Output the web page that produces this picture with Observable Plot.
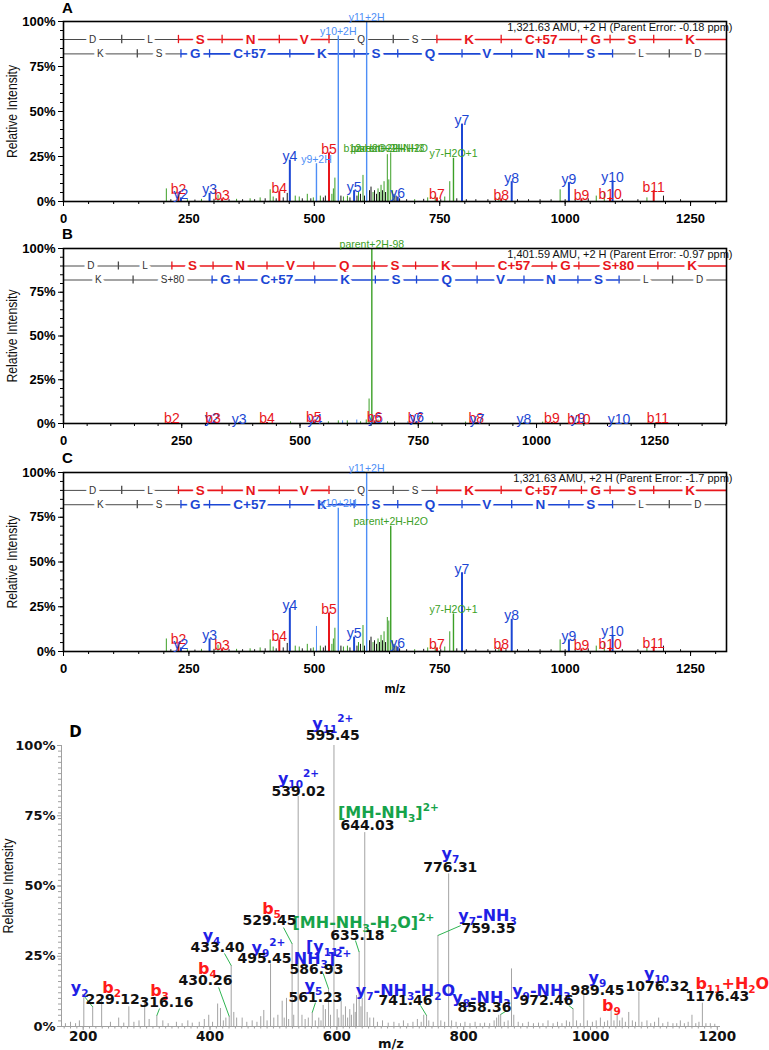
<!DOCTYPE html>
<html>
<head>
<meta charset="utf-8">
<script src="https://cdn.jsdelivr.net/npm/d3@7"></script>
<script src="https://cdn.jsdelivr.net/npm/@observablehq/plot@0.6"></script>
<style>
  html, body { margin: 0; padding: 0; background: #fff; }
  #page { position: relative; width: 769px; height: 1050px; overflow: hidden; background: #fff; }
  #page > div { position: absolute; left: 0; width: 769px; }
  svg { overflow: visible; }
</style>
</head>
<body>
<div id="page"></div>
<script>
// ---------------- DATA ----------------
// Panels A and C: peptide sequence rows (b-ion row on top, y-ion row below)
const seqTopAC = ["D","L","S","N","V","Q","S","K","C+57","G","S","K"];
const seqBotAC = ["K","S","G","C+57","K","S","Q","V","N","S","L","D"];
const bIonsAC = [116.04,229.12,316.15,430.19,529.26,657.32,744.35,872.45,1032.48,1089.50,1176.53];
const yIonsAC = [147.11,234.14,291.16,451.19,579.29,666.32,794.38,893.45,1007.49,1094.52,1207.61];
const topCoveredAC = [0,0,1,1,1,0,0,1,1,1,1,1];
const botCoveredAC = [0,0,1,1,1,1,1,1,1,1,0,0];

// Panel B (phospho form)
const seqTopB = ["D","L","S","N","V","Q","S","K","C+57","G","S+80","K"];
const seqBotB = ["K","S+80","G","C+57","K","S","Q","V","N","S","L","D"];
const bIonsB = [116.04,229.12,316.15,430.19,529.26,657.32,744.35,872.45,1032.48,1089.50,1256.53];
const yIonsB = [147.11,314.14,371.16,531.19,659.29,746.32,874.38,973.45,1087.49,1174.52,1287.61];
const topCoveredB = [0,0,1,1,1,1,1,1,1,1,1,1];
const botCoveredB = [0,0,1,1,1,1,1,1,1,1,0,0];

const parentA = 1321.63, parentB = 1401.59, parentC = 1321.63;
const headerA = "1,321.63 AMU, +2 H (Parent Error: -0.18 ppm)";
const headerB = "1,401.59 AMU, +2 H (Parent Error: -0.97 ppm)";
const headerC = "1,321.63 AMU, +2 H (Parent Error: -1.7 ppm)";

// unlabeled peaks shared by spectra A and C: [m/z, %, series]
const minorPeaksAC = [
  [205,7,"g"],[214,1,"k"],[247,1,"g"],[262,0.8,"k"],[275,1.2,"g"],[300,1.2,"k"],[308,3.5,"g"],
  [330,1,"k"],[345,1.2,"g"],[357,1,"k"],[372,1.5,"g"],[381,1,"k"],[392,2,"g"],[402,1.5,"k"],
  [412,6.5,"g"],[418,2.5,"g"],[424,1.5,"k"],[438,2,"k"],[446,4.5,"k"],[462,3,"g"],[470,2.5,"g"],
  [476,1.5,"k"],[486,4,"g"],[493,1.5,"k"],[498,2,"g"],[512,3,"g"],[518,2,"k"],[522,3,"k"],
  [535,4,"g"],[538,7,"g"],[541,13,"g"],[553,3,"k"],[558,2.5,"g"],[566,3,"g"],[571,2,"k"],
  [585,3,"k"],[588,5,"g"],[592,4,"k"],[597,14.5,"g"],[600,3,"k"],[610,6,"k"],[613,8,"k"],
  [617,5,"g"],[620,6,"k"],[624,4,"k"],[627,7,"g"],[630,5,"k"],[633,9,"g"],[636,6,"k"],
  [639,11,"g"],[642,5,"k"],[656,6,"g"],[659,4,"k"],[663,3,"k"],[670,1.5,"k"],[684,1,"k"],
  [700,1,"g"],[718,1.2,"k"],[726,2,"g"],[741,3,"g"],[752,1,"k"],[760,2.5,"g"],[770,11,"g"],
  [784,1.5,"k"],[803,1,"k"],[822,1,"k"],[846,1,"k"],[861,1,"k"],[868,2,"g"],[882,1,"k"],
  [905,1,"k"],[927,1,"k"],[950,1,"k"],[972,1,"k"],[990,6.5,"g"],[1000,1,"k"],[1020,1,"k"],
  [1046,1.5,"k"],[1062,3,"g"],[1078,5,"g"],[1114,1,"k"],[1145,1,"k"],[1163,2,"g"],[1196,3,"k"],[1230,1,"k"]
];
const extraPeaksA = [[645.5,26,"g"],[648.5,12,"g"],[652.3,27,"g"]];
const extraPeaksC = [[504.25,14,"h"],[645.5,19,"g"],[648.5,17,"g"]];
const minorPeaksB = [
  [420,0.8,"g"],[480,1,"g"],[560,1,"g"],[581,1.5,"g"],[590,1.5,"h"],[600,1.5,"g"],[620,2,"h"],
  [628,1,"g"],[640,2,"g"],[646,14,"g"],[660,1.5,"g"],[665,2,"g"],[685,1,"g"],[700,1,"k"],[728,1,"h"],
  [780,0.8,"g"],[850,0.8,"g"],[1013,0.8,"g"]
];

// labeled peaks: [label, m/z, %, series]
const ionsA = [
  ["b2",229.12,5,"b"],["y2",234.14,2,"y"],["y3",291.16,4.5,"y"],["b3",316.15,1.5,"b"],
  ["b4",430.19,5.5,"b"],["y4",451.19,23,"y"],["y9+2H",504.25,21,"h"],["b5",529.26,27,"b"],
  ["y10+2H",547.77,92,"h"],["y5",579.29,6,"y"],["y11+2H",604.31,100,"h"],["y6",666.32,2.5,"y"],
  ["b7",744.35,2,"b"],["y7-H2O+1",777.37,24,"g"],["y7",794.38,43,"y"],["b8",872.45,1.5,"b"],
  ["y8",893.45,11,"y"],["y9",1007.49,10.5,"y"],["b9",1032.48,1.5,"b"],["b10",1089.50,2,"b"],
  ["y10",1094.52,11.5,"y"],["b11",1176.53,6,"b"]
];
const clusterLabelsA = [["b12-H2O+2H",620],["parent+2H-NH3",645.5],["parent+2H-H2O",652.3]];
const clusterLevelA = 27;
const ionsB = [
  ["b2",229.12,0.6,"b"],["y2",314.14,0.6,"y"],["b3",316.15,0.6,"b"],["y3",371.16,0.5,"y"],
  ["b4",430.19,0.6,"b"],["y4",531.19,0.5,"y"],["b5",529.26,1.5,"b"],["y5",659.29,0.6,"y"],
  ["b6",657.32,1.5,"b"],["b7",744.35,0.6,"b"],["y6",746.32,1.2,"y"],["b8",872.45,0.6,"b"],
  ["y7",874.38,0.5,"y"],["y8",973.45,0.5,"y"],["b9",1032.48,0.6,"b"],["y9",1087.49,0.8,"y"],
  ["b10",1089.50,0.5,"b"],["y10",1174.52,0.5,"y"],["b11",1256.53,0.6,"b"],
  ["parent+2H-98",651.8,100,"g"]
];
const ionsC = [
  ["b2",229.12,5,"b"],["y2",234.14,2,"y"],["y3",291.16,7,"y"],["b3",316.15,1.5,"b"],
  ["b4",430.19,6.5,"b"],["y4",451.19,24,"y"],["b5",529.26,21.5,"b"],
  ["y10+2H",547.77,80,"h"],["y5",579.29,8,"y"],["y11+2H",604.31,100,"h"],
  ["parent+2H-H2O",652.31,70,"g"],["y6",666.32,2.5,"y"],["b7",744.35,2,"b"],
  ["y7-H2O+1",777.37,21,"g"],["y7",794.38,44,"y"],["b8",872.45,2,"b"],["y8",893.45,18,"y"],
  ["y9",1007.49,6.5,"y"],["b9",1032.48,1.5,"b"],["b10",1089.50,2,"b"],["y10",1094.52,9,"y"],
  ["b11",1176.53,2.5,"b"]
];

// Panel D: all peaks [m/z, %]
const peaksD = [
  [172,1],[180,1.5],[188,1],[194,2],[201,10.2],[215,7],[229.12,10.2],[243,1.5],[256,3],[264,1.2],
  [272,7],[280,1.5],[288,2],[297,9],[304,2.5],[316.16,3.9],[325.6,2],[334,1],[347,1.5],[356,1],
  [365,2],[372,1.2],[383,1.5],[391,2.5],[398,4],[404,1.5],[412,8],[416.5,6.4],[421,2],[425,3],
  [430.26,3.6],[433.40,21.7],[437.5,5],[442,3],[450.7,3],[458,1.5],[466.5,2],[474,1.5],[480,3.5],
  [484.8,5.7],[490,2],[495.45,22.3],[500.6,3],[507,4],[513.8,9],[517,3],[520.6,10],[524,2.5],
  [529.45,29.4],[532,4],[539.02,81.9],[545,4],[550,2.5],[555,3],[561.23,5],[566,2],[571.5,3],
  [575,2],[578.4,7.5],[582,6],[586.93,13.4],[590,4],[595.45,100],[600.5,6],[603,3],[606.8,9],
  [610,4],[613.6,7],[617,3],[620.4,6],[623,4],[626.7,8],[629,5],[631,11],[635.18,26.5],[638,7],
  [640,10],[644.03,69],[647.8,5],[652,3],[658,3],[664,1.5],[672,2],[681,1.2],[690,1.5],[698,1],
  [705,2],[712,1],[720,1.5],[727,2.5],[733,1.5],[737,4],[741.46,3.9],[745,2],[752,1.5],
  [759.35,32.4],[764,2],[770,1.5],[776.31,54.3],[781,2],[788,1.5],[795,1],[802,1.5],[810,1],
  [818,1.5],[826,1],[833,1.2],[841,1],[848,2],[852,3],[855.3,4],[858.36,4.3],[864,1.5],[870,2],
  [875.42,20.5],[879,4],[886,1.5],[893,1],[902,1.5],[910,1],[918,1.2],[925,1],[933,2],[941,1],
  [948,1.5],[955,1],[962,2],[967,1.5],[972.46,6.3],[978,2],[984,1],[989.45,11],[995,2],
  [1003,1.5],[1009,2],[1015.6,3],[1022,1.5],[1027,2],[1032.48,5.7],[1037,2],[1042,4],[1046,2],
  [1050,3],[1055,1.5],[1060.3,5],[1066,2],[1071,1.5],[1076.32,12.2],[1081,1.5],[1089,2],
  [1095,1],[1101,1.5],[1107.5,3],[1114,1],[1122,1.5],[1130,1],[1136,1],[1141.7,2],[1148,1],
  [1154,1.5],[1160,4],[1166,1],[1171,1.5],[1176.43,8.3],[1182,1],[1189,1],[1196,0.8]
];
// D ion annotations: [markup (_sub, ^sup), series, label m/z, label %]
const ionLabelsD = [
  ["y_11^2+","y",593.6,107.8],["y_10^2+","y",539.5,88.3],["[MH-NH_3]^2+","g",681.3,76.2],
  ["y_7","y",779,61.6],["b_5","b",497,42],["[MH-NH_3-H_2O]^2+","g",641.9,36.7],
  ["y_7-NH_3","y",837.6,39.5],["y_4","y",402.4,32.4],["y_9^2+","y",492.2,28.1],
  ["b_4","b",396,20.6],["[y_11-","y",582.2,28.5],["NH_3]^2+","y",577.4,24.2],
  ["y_5","y",563.1,14.6],["y_2","y",194.3,13.9],["b_2","b",244.8,13.9],["b_3","b",320.4,12.8],
  ["y_7-NH_3-H_2O","y",708.2,12.8],["y_8-NH_3","y",828,10.3],["y_9-NH_3","y",922.6,12.8],
  ["y_9","y",1011,17.4],["b_9","b",1033,7.5],["y_10","y",1104,18.9],["b_11+H_2O","b",1223.6,15.3]
];
// D m/z value captions: [text, m/z, %]
const valueLabelsD = [
  ["595.45",593.6,103.6],["539.02",539.5,83.6],["644.03",648.2,71.5],["776.31",779,56.6],
  ["529.45",493.8,37.7],["635.18",632.4,32.4],["759.35",839,34.9],["433.40",411.8,28.1],
  ["495.45",485.9,24.2],["430.26",392.9,16.4],["586.93",567.9,20.3],["561.23",566.3,10.3],
  ["229.12",246.4,9.6],["316.16",331.4,8.5],["741.46",708.2,9.3],["858.36",832.7,6.8],
  ["972.46",930.5,9.3],["989.45",1011,12.8],["1076.32",1105.5,14.2],["1176.43",1200,10.7]
];
// D leader lines: [from m/z, from %, peak m/z, peak %]
const leadersD = [
  [199,11.5,215,7],[320.4,6.4,316.16,3.9],[413.6,13.9,430.26,3.6],[422.8,26,433.40,21.7],
  [515.9,35.2,529.45,29.4],[629.3,30.6,635.18,26.5],[578.4,18.9,586.93,13.4],[566.3,8.5,561.23,5],
  [795.2,35.9,759.35,32.4],[731.8,7.5,741.46,3.9],[868.5,5.7,858.36,4.3],[965.6,7.5,972.46,6.3]
];
const domainD = [165.8, 1205];

// ---------------- STYLE ----------------
const COL = {b: "#e8161b", y: "#1c47d4", h: "#4d8ef6", g: "#3b9f26", k: "#151515", off: "#4a4a4a"};
const DCOL = {b: "#ff1a1a", y: "#1f1fe6", g: "#16a34a"};
const SANS = '"Liberation Sans", Arial, Helvetica, sans-serif';
const DEJAVU = '"DejaVu Sans", Verdana, sans-serif';
const ROW_B = 90, ROW_Y = 82;

function seqMarks(top, bot, xmax) {
  const build = (letters, ions, cov, row, color) => {
    const b = [0, ...ions, xmax];
    const segs = letters.map((t, i) => ({t, x1: b[i], x2: b[i + 1], xm: (b[i] + b[i + 1]) / 2,
      on: cov[i] === 1, row, c: cov[i] === 1 ? color : COL.off}));
    const ticks = ions.map((x, i) => ({x, row, c: (cov[i] === 1 || cov[i + 1] === 1) ? color : COL.off}));
    return {segs, ticks};
  };
  const A = build(top[0], top[1], top[2], ROW_B, COL.b);
  const B = build(bot[0], bot[1], bot[2], ROW_Y, COL.y);
  const segs = [...A.segs, ...B.segs], ticks = [...A.ticks, ...B.ticks];
  return [
    Plot.ruleY(segs.filter(d => !d.on), {y: "row", x1: "x1", x2: "x2", stroke: "c", strokeWidth: 1}),
    Plot.ruleY(segs.filter(d => d.on), {y: "row", x1: "x1", x2: "x2", stroke: "c", strokeWidth: 1.6}),
    Plot.ruleX(ticks, {x: "x", y1: d => d.row - 2.3, y2: d => d.row + 2.3, stroke: "c", strokeWidth: 1.3}),
    Plot.text(segs.filter(d => !d.on), {x: "xm", y: "row", text: "t", fill: "#333", fontSize: 10,
      fontFamily: SANS, fontWeight: "normal", stroke: "white", strokeWidth: 7, paintOrder: "stroke"}),
    Plot.text(segs.filter(d => d.on), {x: "xm", y: "row", text: "t", fill: "c", fontSize: 13.5,
      fontFamily: SANS, fontWeight: "bold", stroke: "white", strokeWidth: 7, paintOrder: "stroke"})
  ];
}

function condenseAxisTitle(svg, len) {
  d3.select(svg).selectAll("text")
    .filter(function () { return this.textContent === "Relative Intensity"; })
    .attr("textLength", len).attr("lengthAdjust", "spacingAndGlyphs");
}

function spectrumPanel(p) {
  const isBig = d => d[3] === "b" || d[3] === "y";
  const big = p.ions.filter(isBig), small = p.ions.filter(d => !isBig(d));
  const marks = [
    ...seqMarks(p.top, p.bot, p.xmax),
    Plot.ruleX(p.minor, {x: d => d[0], y1: 0, y2: d => d[1], stroke: d => COL[d[2]], strokeWidth: 1}),
    Plot.ruleX(small, {x: d => d[1], y1: 0, y2: d => d[2], stroke: d => COL[d[3]], strokeWidth: 1.4}),
    Plot.ruleX(big, {x: d => d[1], y1: 0, y2: d => d[2], stroke: d => COL[d[3]], strokeWidth: 2}),
    Plot.frame({stroke: "#000", strokeWidth: 1.6}),
    Plot.axisY({ticks: d3.range(0, 101, 5), tickSize: 3, fill: "none", stroke: "#000", label: null}),
    Plot.axisY({ticks: [0, 25, 50, 75, 100], tickSize: 5, tickPadding: 3, tickFormat: d => d + "%",
      fontSize: 13, fontWeight: "bold", fontFamily: SANS, stroke: "#000", fill: "#000", label: null}),
    Plot.axisX({ticks: d3.range(0, p.xmax, 50), tickSize: 3, fill: "none", stroke: "#000", label: null}),
    Plot.axisX({ticks: d3.range(0, p.xmax, 250), tickSize: 5, tickPadding: 7, tickFormat: d => String(d),
      fontSize: 13, fontWeight: "bold", fontFamily: SANS, stroke: "#000", fill: "#000", label: null}),
    Plot.text(small, {x: d => d[1], y: d => d[2], text: d => d[0], fill: d => COL[d[3]], lineAnchor: "bottom",
      fontSize: 10.5, fontFamily: SANS, fontWeight: "normal", dy: -1}),
    Plot.text(big, {x: d => d[1], y: d => d[2], text: d => d[0], fill: d => COL[d[3]], lineAnchor: "bottom",
      fontSize: 14, fontFamily: SANS, fontWeight: "normal", dy: 1}),
    Plot.text(p.cluster || [], {x: d => d[1], y: () => p.clusterLevel, text: d => d[0], fill: COL.g,
      lineAnchor: "bottom", fontSize: 10.5, fontFamily: SANS, fontWeight: "normal", dy: -1}),
    Plot.text([p.header], {frameAnchor: "top-right", dx: 6, dy: 1.5, fontSize: 11, fontFamily: SANS,
      fontWeight: "normal", fill: "#111"}),
    Plot.text(["Relative Intensity"], {frameAnchor: "left", dx: -51, rotate: -90, textAnchor: "middle",
      lineAnchor: "middle", fontSize: 14.5, fontFamily: SANS, fontWeight: "normal", fill: "#111"}),
    Plot.text([p.letter], {frameAnchor: "top-left", dx: 4, dy: p.letterDy, textAnchor: "middle",
      lineAnchor: "middle", fontSize: 15, fontWeight: "bold", fontFamily: SANS, fill: "#000"})
  ];
  if (p.xLabel) marks.push(Plot.text([p.xLabel], {frameAnchor: "bottom", dy: 37, lineAnchor: "middle",
    fontSize: 12.5, fontWeight: "bold", fontFamily: SANS, fill: "#000"}));
  const svg = Plot.plot({
    width: 769, height: p.height, marginTop: p.mt, marginBottom: p.mb, marginLeft: 63, marginRight: 43,
    x: {domain: [0, p.xmax]}, y: {domain: [0, 100]}, color: {type: "identity"},
    style: {fontFamily: SANS, fontSize: "12px", background: "transparent", overflow: "visible", color: "#000"},
    marks
  });
  condenseAxisTitle(svg, 93);
  return svg;
}

function panelD() {
  const marks = [
    Plot.axisY({ticks: d3.range(0, 101, 2), tickSize: 3, fill: "none", stroke: "#a0a0a0", label: null}),
    Plot.axisY({ticks: [0, 25, 50, 75, 100], tickSize: 4, tickPadding: 2, tickFormat: d => d + "%",
      fontSize: 13, fontWeight: "bold", fontFamily: DEJAVU, stroke: "#a0a0a0", fill: "#111", label: null}),
    Plot.axisX({ticks: d3.range(170, 1201, 10), tickSize: 2.5, fill: "none", stroke: "#a0a0a0", label: null}),
    Plot.axisX({ticks: d3.range(200, 1201, 200), tickSize: 4, tickPadding: 1, tickFormat: d => String(d),
      fontSize: 13.5, fontWeight: "bold", fontFamily: DEJAVU, stroke: "#a0a0a0", fill: "#111", label: null}),
    Plot.ruleX([domainD[0]], {y1: 0, y2: 100, stroke: "#a0a0a0"}),
    Plot.ruleY([0], {x1: domainD[0], x2: domainD[1], stroke: "#a0a0a0"}),
    Plot.ruleX(peaksD, {x: d => d[0], y1: 0, y2: d => d[1], stroke: "#a3a3a3", strokeWidth: 1}),
    Plot.link(leadersD, {x1: d => d[0], y1: d => d[1], x2: d => d[2], y2: d => d[3], stroke: "#2fb552", strokeWidth: 1}),
    Plot.text(ionLabelsD, {x: d => d[2], y: d => d[3], text: d => d[0], fill: d => DCOL[d[1]], fontSize: 16,
      fontWeight: "bold", fontFamily: DEJAVU, lineAnchor: "middle"}),
    Plot.text(valueLabelsD, {x: d => d[1], y: d => d[2], text: d => d[0], fill: "#111", fontSize: 14,
      fontWeight: "bold", fontFamily: DEJAVU, lineAnchor: "middle"}),
    Plot.text(["Relative Intensity"], {frameAnchor: "left", dx: -53, rotate: -90, textAnchor: "middle",
      lineAnchor: "middle", fontSize: 14.5, fontFamily: SANS, fontWeight: "normal", fill: "#111"}),
    Plot.text(["D"], {frameAnchor: "top-left", dx: 14, dy: -13.5, textAnchor: "middle", lineAnchor: "middle",
      fontSize: 15, fontWeight: "bold", fontFamily: DEJAVU, fill: "#000"}),
    Plot.text(["m/z"], {frameAnchor: "bottom", dy: 17, lineAnchor: "middle", fontSize: 13,
      fontWeight: "bold", fontFamily: DEJAVU, fill: "#111"})
  ];
  const svg = Plot.plot({
    width: 769, height: 354, marginTop: 49, marginBottom: 24, marginLeft: 61, marginRight: 49,
    x: {domain: domainD}, y: {domain: [0, 100]}, color: {type: "identity"},
    style: {fontFamily: DEJAVU, fontSize: "12px", background: "transparent", overflow: "visible", color: "#000"},
    marks
  });
  // render _subscript and ^superscript markup as real tspans
  d3.select(svg).selectAll("text")
    .filter(function () { return /_[0-9]|\^[0-9]/.test(this.textContent); })
    .each(function () {
      const raw = this.textContent;
      const parts = raw.split(/(_[0-9]+|\^[0-9]\+)/).filter(s => s.length);
      const sel = d3.select(this);
      sel.text(null);
      let shift = 0;
      for (const part of parts) {
        let target = 0, size = null, txt = part;
        if (part[0] === "_") { target = 4; size = 10.5; txt = part.slice(1); }
        else if (part[0] === "^") { target = -7; size = 10.5; txt = part.slice(1); }
        const ts = sel.append("tspan").attr("dy", target - shift).text(txt);
        if (size) ts.attr("font-size", size);
        shift = target;
      }
    });
  condenseAxisTitle(svg, 95);
  return svg;
}

function mount(node, top) {
  const div = document.createElement("div");
  div.style.top = top + "px";
  div.appendChild(node);
  document.getElementById("page").appendChild(div);
}

mount(spectrumPanel({
  xmax: parentA, height: 232, mt: 21, mb: 31, letter: "A", letterDy: -13.5, header: headerA,
  top: [seqTopAC, bIonsAC, topCoveredAC], bot: [seqBotAC, yIonsAC, botCoveredAC],
  minor: [...minorPeaksAC, ...extraPeaksA], ions: ionsA, cluster: clusterLabelsA, clusterLevel: clusterLevelA
}), 0);
mount(spectrumPanel({
  xmax: parentB, height: 222, mt: 16, mb: 31, letter: "B", letterDy: -14.5, header: headerB,
  top: [seqTopB, bIonsB, topCoveredB], bot: [seqBotB, yIonsB, botCoveredB],
  minor: minorPeaksB, ions: ionsB
}), 232);
mount(spectrumPanel({
  xmax: parentC, height: 242, mt: 18, mb: 45, letter: "C", letterDy: -14, header: headerC,
  top: [seqTopAC, bIonsAC, topCoveredAC], bot: [seqBotAC, yIonsAC, botCoveredAC],
  minor: [...minorPeaksAC, ...extraPeaksC], ions: ionsC, xLabel: "m/z"
}), 454);
mount(panelD(), 696);
</script>
</body>
</html>
